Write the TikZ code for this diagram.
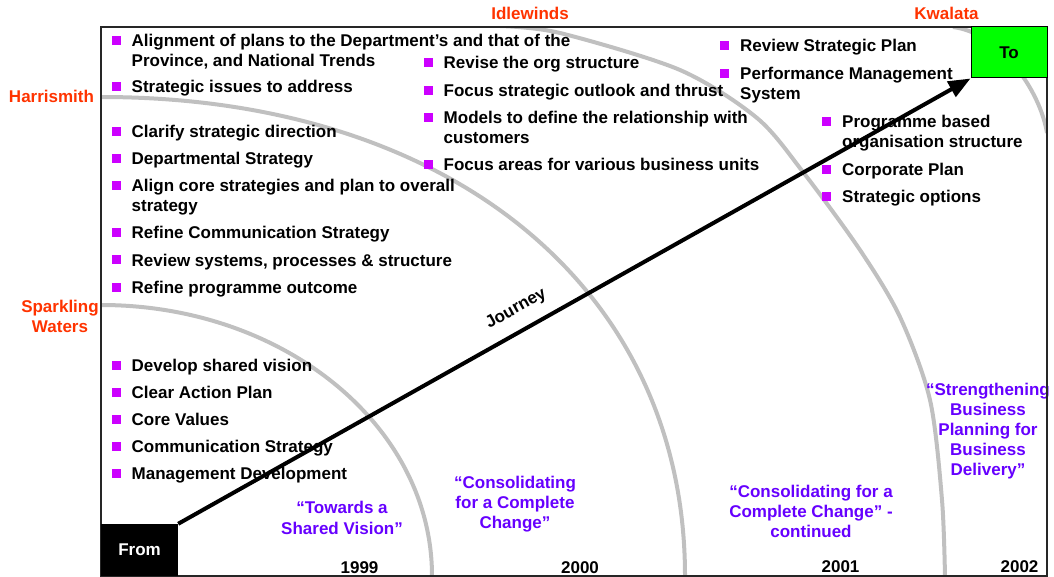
\documentclass[tikz,border=0pt]{standalone}
\usepackage{fontspec}
\setmainfont{Liberation Sans}
\usetikzlibrary{arrows.meta}
\definecolor{placeclr}{HTML}{FF3300}
\definecolor{themeclr}{HTML}{6600FF}
\definecolor{bulletclr}{HTML}{CC00FF}
\definecolor{arcclr}{HTML}{C0C0C0}
\definecolor{togreen}{HTML}{00FF00}

% bulleted line: name, x of text, baseline y, text
\newcommand{\bulitem}[4]{%
  \node[bul] (#1-b) at (#2-15.5,#3-6) {};
  \node[item] (#1) at (#2,#3) {#4};}

\begin{document}
\begin{tikzpicture}[x=1pt,y=-1pt,
  txt/.style={font=\bfseries\fontsize{17}{20}\selectfont, inner sep=0pt},
  item/.style={txt, anchor=base west},
  place/.style={txt, text=placeclr, anchor=base},
  theme/.style={txt, text=themeclr, anchor=base},
  year/.style={txt, anchor=base},
  bul/.style={fill=bulletclr, minimum size=9pt, inner sep=0pt, anchor=center},
  arcline/.style={draw=arcclr, line width=4pt},
]
\useasboundingbox (0,0) rectangle (1054,577);

% milestone arcs
\begin{scope}
  \clip (101,27) rectangle (1047,576);
  \draw[arcline] (101,305) .. controls (284,305) and (432,426) .. (432,576);
  \draw[arcline] (101,97) .. controls (451,97) and (685,289) .. (685,576);
  \draw[arcline] plot[smooth] coordinates {(500,26) (560,33) (680,70) (757,118)
    (803,172) (860,250) (900,317) (930,400) (942,500) (945,577)};
  \draw[arcline] (953,27) .. controls (1000,33) and (1040,90) .. (1047,133);
\end{scope}

% place names
\node[place] (idle) at (530,20) {Idlewinds};
\node[place] (kwal) at (946.5,19.5) {Kwalata};
\node[place] (harr) at (51.5,103) {Harrismith};
\node[place] (spark1) at (60,312) {Sparkling};
\node[place] (spark2) at (60,332) {Waters};

% left column
\bulitem{a1}{131.5}{47}{Alignment of plans to the Department’s and that of the}
\node[item] (a1c) at (131.5,67) {Province, and National Trends};
\bulitem{a2}{131.5}{93}{Strategic issues to address}
\bulitem{b1}{131.5}{138}{Clarify strategic direction}
\bulitem{b2}{131.5}{165}{Departmental Strategy}
\bulitem{b3}{131.5}{192}{Align core strategies and plan to overall}
\node[item] (b3c) at (131.5,212) {strategy};
\bulitem{b4}{131.5}{239}{Refine Communication Strategy}
\bulitem{b5}{131.5}{266}{Review systems, processes \& structure}
\bulitem{b6}{131.5}{293}{Refine programme outcome}
\bulitem{c1}{131.5}{371}{Develop shared vision}
\bulitem{c2}{131.5}{398}{Clear Action Plan}
\bulitem{c3}{131.5}{425}{Core Values}
\bulitem{c4}{131.5}{452}{Communication Strategy}
\bulitem{c5}{131.5}{479}{Management Development}

% middle column
\bulitem{m1}{443.5}{69}{Revise the org structure}
\bulitem{m2}{443.5}{97}{Focus strategic outlook and thrust}
\bulitem{m3}{443.5}{124}{Models to define the relationship with}
\node[item] (m3c) at (443.5,144) {customers};
\bulitem{m4}{443.5}{171}{Focus areas for various business units}

% right columns
\bulitem{r1}{740}{52}{Review Strategic Plan}
\bulitem{r2}{740}{80}{Performance Management}
\node[item] (r2c) at (740,100) {System};
\bulitem{s1}{842}{128}{Programme based}
\node[item] (s1c) at (842,148) {organisation structure};
\bulitem{s2}{842}{176}{Corporate Plan}
\bulitem{s3}{842}{203}{Strategic options}

% themes of each year
\node[theme] (t1a) at (342,513) {“Towards a};
\node[theme] (t1b) at (342,534) {Shared Vision”};
\node[theme] (t2a) at (515,488) {“Consolidating};
\node[theme] (t2b) at (515,508) {for a Complete};
\node[theme] (t2c) at (515,528) {Change”};
\node[theme] (t3a) at (811,497) {“Consolidating for a};
\node[theme] (t3b) at (811,517) {Complete Change” -};
\node[theme] (t3c) at (811,537) {continued};
\node[theme] (t4a) at (988,395) {“Strengthening};
\node[theme] (t4b) at (988,415) {Business};
\node[theme] (t4c) at (988,435) {Planning for};
\node[theme] (t4d) at (988,455) {Business};
\node[theme] (t4e) at (988,475) {Delivery”};

% years
\node[year] (y1) at (359.5,573) {1999};
\node[year] (y2) at (580,573) {2000};
\node[year] (y3) at (840.5,572) {2001};
\node[year] (y4) at (1019.5,572) {2002};

% frame
\draw[line width=1.5pt, black!85] (101,27) rectangle (1047,576);

% start and end boxes
\node[txt, fill=black, text=white, minimum width=77pt, minimum height=52pt] (from) at (139.5,550) {From};
\node[txt, draw=black, line width=1pt, fill=togreen, minimum width=76pt, minimum height=51pt] (to) at (1009,52.5) {To};

% journey arrow
\draw[line width=4pt, -{Triangle[length=22pt,width=17pt]}]
  (from.north east) -- node[txt, sloped, pos=0.44, above=12pt] (jr) {Journey} (to.south west);
\end{tikzpicture}
\end{document}
